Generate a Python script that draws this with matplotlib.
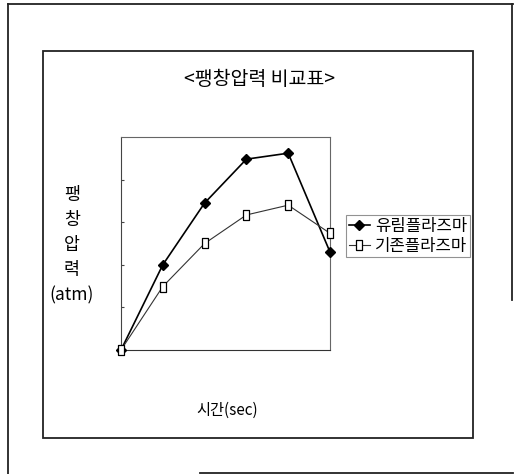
import matplotlib.pyplot as plt
from matplotlib.lines import Line2D
from matplotlib.patches import Rectangle

plt.rcParams['font.family'] = ['Noto Sans CJK KR', 'DejaVu Sans']

# time steps along the x axis
time_steps = [0, 1, 2, 3, 4, 5]
# expansion pressure for each plasma type
yurim_plasma = [0, 2.0, 3.45, 4.48, 4.62, 2.3]
old_plasma = [0, 1.49, 2.5, 3.17, 3.4, 2.74]
series_names = ['유림플라즈마', '기존플라즈마']

fig = plt.figure(figsize=(5.15, 4.74), dpi=100)
W, H = 515, 474


def px(x, y):
    return x / W, 1 - y / H


# outer page border (broken at the lower right)
for (x0, y0), (x1, y1) in [((8, 4), (8, 474)), ((8, 4), (513, 4)),
                           ((512, 4), (512, 300)), ((200, 473), (513, 473))]:
    a, b = px(x0, y0)
    c, d = px(x1, y1)
    fig.add_artist(Line2D([a, c], [b, d], color='#222222', lw=1.3))

# chart frame
fx, fy = px(43, 438)
fig.add_artist(Rectangle((fx, fy), 430 / W, 387 / H, fill=False,
                         edgecolor='#222222', lw=1.3, transform=fig.transFigure))

ax = fig.add_axes([121 / W, 1 - 350 / H, 209 / W, 213 / H])
ax.plot(time_steps, yurim_plasma, color='black', lw=1.2, marker='D',
        markersize=5, markerfacecolor='black', label=series_names[0], clip_on=False, zorder=3)
sq = [(-0.35, -0.5), (0.35, -0.5), (0.35, 0.5), (-0.35, 0.5), (-0.35, -0.5)]
ax.plot(time_steps, old_plasma, color='#333333', lw=0.8, marker=sq,
        markersize=7, markerfacecolor='white', markeredgecolor='black',
        markeredgewidth=0.9, label=series_names[1], clip_on=False, zorder=4)

ax.set_xlim(0, 5)
ax.set_ylim(0, 5)
ax.set_xticks([])
ax.set_yticks([1, 2, 3, 4])
ax.set_yticklabels([])
ax.tick_params(axis='y', direction='in', length=2, width=0.8, color='#444444')
for s in ax.spines.values():
    s.set_color('#666666')
    s.set_linewidth(0.8)
ax.spines['bottom'].set_color('#333333')
ax.spines['left'].set_color('#444444')

leg = ax.legend(loc='upper left', bbox_to_anchor=(346 / W, 1 - 215 / H),
                bbox_transform=fig.transFigure, fontsize=12, frameon=True,
                fancybox=False, handlelength=1.3, handletextpad=0.3,
                borderpad=0.15, labelspacing=0.2, borderaxespad=0)
leg.get_frame().set_edgecolor('#777777')
leg.get_frame().set_linewidth(0.8)

tx, ty = px(260, 80)
fig.text(tx, ty, '<팽창압력 비교표>', ha='center', va='center', fontsize=14,
         fontweight='medium')

lx, ly = px(72, 245)
fig.text(lx, ly, '팽\n창\n압\n력\n(atm)', ha='center', va='center',
         fontsize=12.5, linespacing=1.5)

xx, xy = px(227, 410)
fig.text(xx, xy, '시간(sec)', ha='center', va='center', fontsize=11)

fig.savefig('out.png', dpi=100)
